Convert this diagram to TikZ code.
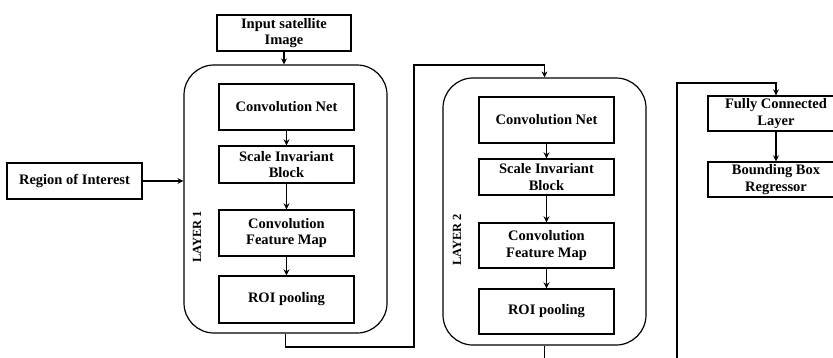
\documentclass[tikz,border=0pt]{standalone}
\usepackage{fontspec}
\setmainfont{Liberation Serif}
\usetikzlibrary{arrows.meta}
\begin{document}
\begin{tikzpicture}[x=1pt,y=-1pt,
  blk/.style={draw,line width=1.4pt,minimum width=135pt,inner sep=0pt,align=center,
    font=\bfseries\fontsize{14.5}{16.5}\selectfont},
  layer/.style={draw,line width=1.2pt,rounded corners=30pt,minimum width=203pt,inner sep=0pt},
  flow/.style={line width=1.1pt,-{Stealth[length=6pt,width=6pt]}},
  wire/.style={line width=1.1pt},
  lbl/.style={rotate=90,font=\bfseries\fontsize{12.5}{14}\selectfont}]
\useasboundingbox (0,0) rectangle (833,357);
\clip (0,0) rectangle (833,357);

% inputs
\node[blk,minimum width=134pt,minimum height=36pt] (inp) at (284,33) {Input satellite\\Image};
\node[blk,minimum height=36pt] (roi) at (74.5,181) {Region of Interest};

% first layer
\node[layer,minimum height=268pt] (L1) at (285.5,199) {};
\node[lbl] (t1) at (197,237) {LAYER 1};
\node[blk,minimum height=46pt] (cn1) at (286.5,107) {Convolution Net};
\node[blk,minimum height=37pt] (sib1) at (286.5,164.5) {Scale Invariant\\Block};
\node[blk,minimum height=46pt] (cfm1) at (286.5,233) {Convolution\\Feature Map};
\node[blk,minimum height=47pt] (roip1) at (286.5,299.5) {ROI pooling};

% second layer
\node[layer,minimum height=267pt] (L2) at (544.5,211.5) {};
\node[lbl] (t2) at (457,240) {LAYER 2};
\node[blk,minimum height=46pt] (cn2) at (546.5,120) {Convolution Net};
\node[blk,minimum height=36pt] (sib2) at (546.5,177) {Scale Invariant\\Block};
\node[blk,minimum height=45pt] (cfm2) at (546.5,245.5) {Convolution\\Feature Map};
\node[blk,minimum height=45pt] (roip2) at (546.5,311.5) {ROI pooling};

% head
\node[blk,minimum width=136pt,minimum height=35pt] (fc) at (776,113.5) {Fully Connected\\Layer};
\node[blk,minimum width=136pt,minimum height=35pt] (bb) at (776,179.5) {Bounding Box\\Regressor};

% connectors
\draw[flow] (inp.south) -- (inp.south |- L1.north);
\draw[flow] (roi) -- (roi -| L1.west);
\draw[flow] (cn1) -- (sib1);
\draw[flow] (sib1) -- (cfm1);
\draw[flow] (cfm1) -- (roip1);
\draw[flow] (cn2) -- (sib2);
\draw[flow] (sib2) -- (cfm2);
\draw[flow] (cfm2) -- (roip2);

\coordinate (j1) at (414,347);
\coordinate (j2) at (414,65);
\draw[flow] (L1.south) |- (j1) -- (j2) -| (L2.north);

\coordinate (e1) at (544.5,365);
\draw[wire] (L2.south) -- (e1);

\coordinate (e2) at (677,365);
\coordinate (j3) at (677,83);
\draw[flow] (e2) -- (j3) -| (fc.north);
\draw[flow] (fc) -- (bb);
\end{tikzpicture}
\end{document}
